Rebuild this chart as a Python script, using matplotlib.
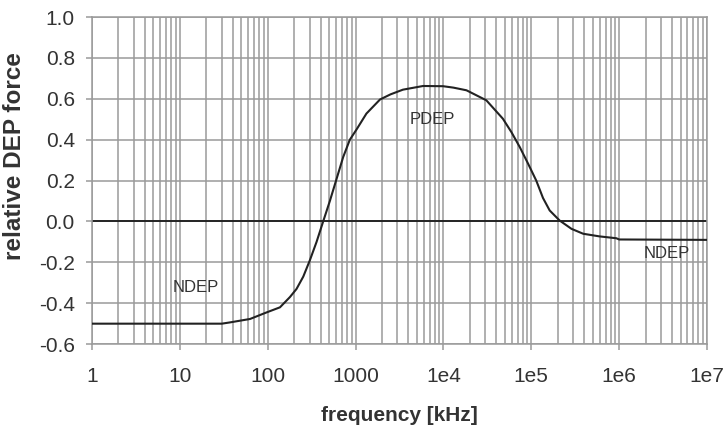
import numpy as np
import matplotlib

matplotlib.use("Agg")
import matplotlib.pyplot as plt
from matplotlib.ticker import FixedLocator, FixedFormatter, LogLocator, NullFormatter

# DEP response curve (frequency in kHz, relative force)
freq = [1, 10, 30, 37, 63, 97, 138, 179, 213, 254, 302, 360, 428, 510, 600,
        723, 861, 1026, 1330, 1900, 2500, 3460, 5870, 9900, 13000, 18300,
        30800, 47500, 59500, 74000, 92000, 114000, 136000, 162000, 210000,
        287000, 390000, 600000, 930000, 1000000, 10000000]
force = [-0.50, -0.50, -0.50, -0.494, -0.477, -0.445, -0.42, -0.37, -0.33,
         -0.27, -0.19, -0.10, 0.0, 0.10, 0.20, 0.315, 0.40, 0.45, 0.528,
         0.597, 0.622, 0.645, 0.663, 0.662, 0.655, 0.642, 0.593, 0.503,
         0.437, 0.364, 0.283, 0.20, 0.115, 0.054, 0.005, -0.036, -0.06,
         -0.073, -0.082, -0.088, -0.09]

xticks = [1, 10, 100, 1000, 1e4, 1e5, 1e6, 1e7]
xticklabels = ["1", "10", "100", "1000", "1e4", "1e5", "1e6", "1e7"]
yticks = [-0.6, -0.4, -0.2, 0.0, 0.2, 0.4, 0.6, 0.8, 1.0]

regions = ["NDEP", "PDEP", "NDEP"]
region_x = [15.2, 7400, 3.45e6]
region_y = [-0.325, 0.50, -0.158]

plt.rcParams["font.family"] = ["Liberation Sans", "DejaVu Sans"]

fig = plt.figure(figsize=(7.24, 4.28), dpi=100)
ax = fig.add_axes([0.127, 0.196, 0.8495, 0.764])

ax.set_xscale("log")
ax.set_xlim(1, 1e7)
ax.set_ylim(-0.6, 1.0)

grid_col = "#9a9a9a"
txt_col = "#333333"
ax.xaxis.set_major_locator(FixedLocator(xticks))
ax.xaxis.set_major_formatter(FixedFormatter(xticklabels))
ax.xaxis.set_minor_locator(LogLocator(base=10, subs=np.arange(2, 10)))
ax.xaxis.set_minor_formatter(NullFormatter())
ax.set_yticks(yticks)
ax.set_yticklabels(["{:.1f}".format(v) for v in yticks])

ax.grid(which="major", color=grid_col, linewidth=1.1)
ax.grid(which="minor", axis="x", color=grid_col, linewidth=1.1)
ax.set_axisbelow(True)
for s in ax.spines.values():
    s.set_color(grid_col)
    s.set_linewidth(1.1)

ax.tick_params(which="major", length=4.3, width=1.1, color=grid_col,
               labelsize=15, labelcolor=txt_col)
ax.tick_params(axis="x", which="major", pad=12.5)
ax.tick_params(axis="y", which="major", pad=8)
ax.tick_params(which="minor", length=0)

ax.axhline(0.0, color="#1a1a1a", linewidth=1.3, zorder=2)
ax.plot(freq, force, color="#222222", linewidth=1.5, zorder=3)

for txt, x, y in zip(regions, region_x, region_y):
    ax.text(x, y, txt, ha="center", va="center", fontsize=12,
            color=txt_col, zorder=4)

ax.set_xlabel("frequency [kHz]", fontsize=15, fontweight="bold", color=txt_col)
ax.xaxis.set_label_coords(0.5, -0.19)
ax.set_ylabel("relative DEP force", fontsize=17.5, fontweight="bold",
              color=txt_col)
ax.yaxis.set_label_coords(-0.107, 0.575)

fig.savefig("out.png", dpi=100)
